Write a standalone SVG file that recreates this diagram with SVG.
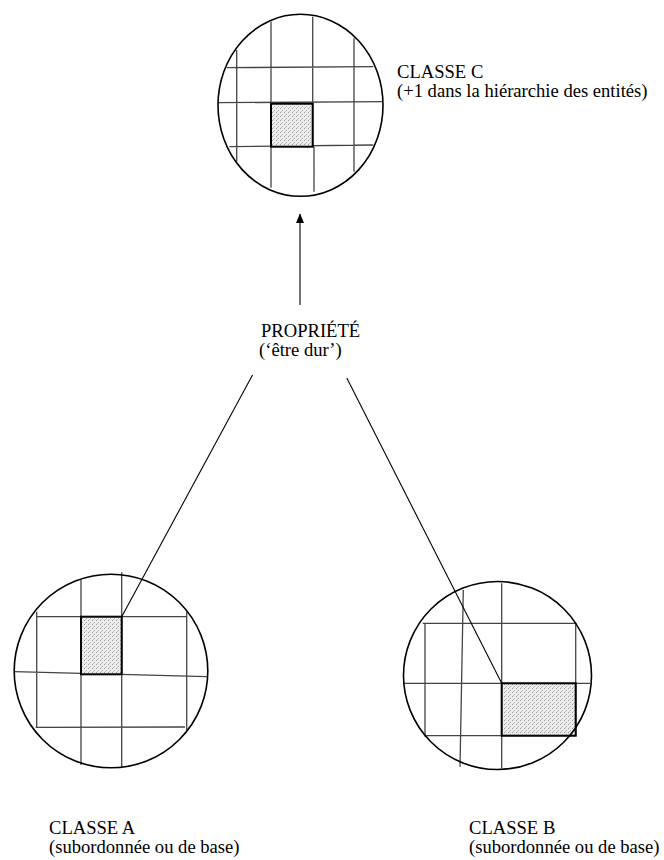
<svg xmlns="http://www.w3.org/2000/svg" width="664" height="860" viewBox="0 0 664 860">
<defs>
<pattern id="stip" width="4" height="4" patternUnits="userSpaceOnUse">
<rect width="4" height="4" fill="#ececec"/>
<rect x="0" y="0" width="1" height="1" fill="#9a9a9a"/>
<rect x="2" y="2" width="1" height="1" fill="#b0b0b0"/>
<rect x="1" y="3" width="1" height="1" fill="#c4c4c4"/>
</pattern>
<marker id="arr" markerWidth="10" markerHeight="9" refX="9" refY="4" orient="auto" markerUnits="userSpaceOnUse" viewBox="0 0 10 8">
<path d="M0,0 L9.5,4 L0,8 Z" fill="#000"/>
</marker>
</defs>
<style>
.circ{fill:none;stroke:#000;stroke-width:1.6}
.grid{stroke:#444;stroke-width:1.3;fill:none}
.sh{fill:url(#stip);stroke:#000;stroke-width:2}
.conn{stroke:#000;stroke-width:1.1;fill:none}
text{font-family:"Liberation Serif","Times New Roman",serif;font-size:18.6px;fill:#000}
</style>
<g id="classe-c">
<path class="grid" d="M236.7,50 V161.7 M271,21.7 V187.7 M312.7,16.7 V146.7 M314,146.7 V191.7 M354,38.3 V171.7 M226.7,67.7 L373.3,66.7 M218,102.7 L383,101.7 M229.3,146.7 L373.3,145"/>
<rect class="sh" x="271" y="103.7" width="41.7" height="43"/>
<ellipse class="circ" cx="300.5" cy="105.3" rx="82.5" ry="91"/>
<text x="397" y="78">CLASSE C</text>
<text x="397" y="97">(+1 dans la hiérarchie des entités)</text>
</g>
<g id="propriete">
<text x="261" y="337">PROPRIÉTÉ</text>
<text x="259" y="356">(‘être dur’)</text>
</g>
<g id="classe-a">
<path class="grid" d="M36.7,611.7 V727.7 M81,580 V765 M121.7,572.3 V766.7 M186.7,611.7 V730 M36.7,616.7 H186.7 M14.3,671.7 L206.7,676.7 M35.7,727.3 L185,727"/>
<rect class="sh" x="81" y="616.7" width="40.7" height="57.6"/>
<circle class="circ" cx="111" cy="671" r="96.8"/>
<text x="49" y="834">CLASSE A</text>
<text x="49" y="853">(subordonnée ou de base)</text>
</g>
<g id="classe-b">
<path class="grid" d="M425,622.7 V736.7 M463.3,590 L460,766.7 M501.7,583.3 V768 M575.7,622.7 V735.7 M422.7,623.3 H575.7 M404,683.3 H590 M425,735.7 H575.7"/>
<rect class="sh" x="501.7" y="683.3" width="74" height="52.4"/>
<circle class="circ" cx="497.5" cy="675.5" r="94"/>
<text x="469" y="834">CLASSE B</text>
<text x="469" y="853">(subordonnée ou de base)</text>
</g>
<g id="connectors">
<line class="conn" x1="300" y1="305" x2="300" y2="214" marker-end="url(#arr)"/>
<line class="conn" x1="252.5" y1="375" x2="121.7" y2="616.7"/>
<line class="conn" x1="346.8" y1="378" x2="501.7" y2="683.3"/>
</g>
</svg>
